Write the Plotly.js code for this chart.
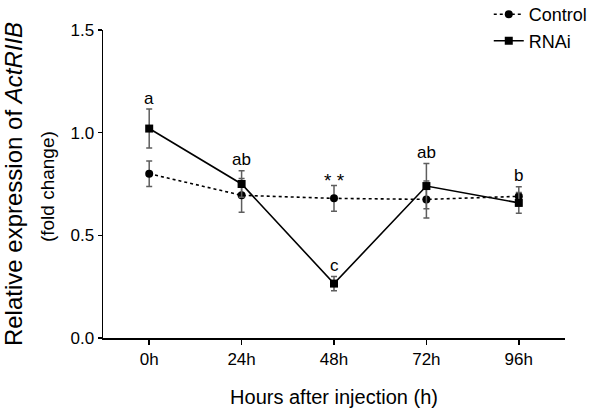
<!DOCTYPE html>
<html>
<head>
<meta charset="utf-8">
<script src="https://cdn.plot.ly/plotly-3.0.1.min.js"></script>
<style>html,body{margin:0;padding:0;background:#fff;}#chart{width:600px;height:412px;}</style>
</head>
<body>
<div id="chart"></div>
<script>
// ---- data ----
var timeLabels = ['0h', '24h', '48h', '72h', '96h'];
var controlMean = [0.80, 0.695, 0.68, 0.675, 0.69];
var controlErr  = [0.062, 0.082, 0.063, 0.09, 0.047];
var rnaiMean    = [1.02, 0.75, 0.265, 0.74, 0.658];
var rnaiErr     = [0.095, 0.065, 0.035, 0.11, 0.05];
var letterLabels = ['a', 'ab', 'c', 'ab', 'b'];
var starLabels   = ['', '', '* *', '', ''];
var seriesNames  = ['Control', 'RNAi'];

var xIdx = timeLabels.map(function (_, i) { return i; });
var FONT = 'Liberation Sans, Arial, sans-serif';

var errStyle = {type: 'data', visible: true, color: '#5e5e5e', thickness: 1.5, width: 3};

var traces = [
  {
    x: xIdx, y: controlMean, name: seriesNames[0], type: 'scatter', mode: 'lines+markers',
    line: {color: '#000', width: 1.6, dash: 'dot'},
    marker: {symbol: 'circle', size: 8, color: '#000'},
    error_y: Object.assign({array: controlErr}, errStyle)
  },
  {
    x: xIdx, y: rnaiMean, name: seriesNames[1], type: 'scatter', mode: 'lines+markers',
    line: {color: '#000', width: 1.6},
    marker: {symbol: 'square', size: 8, color: '#000'},
    error_y: Object.assign({array: rnaiErr}, errStyle)
  }
];

// significance labels: letters above the RNAi error bar (moved above the
// control bar when they would collide with it), stars above the control bar
var annotations = [];
xIdx.forEach(function (i) {
  var rTop = rnaiMean[i] + rnaiErr[i];
  var cTop = controlMean[i] + controlErr[i];
  var cLo = controlMean[i] - controlErr[i];
  var anchor = (rTop >= cLo && rTop <= cTop) ? cTop : rTop;
  if (letterLabels[i]) {
    annotations.push({x: i, y: anchor, xref: 'x', yref: 'y', text: letterLabels[i],
      showarrow: false, yanchor: 'middle', yshift: 11,
      font: {family: FONT, size: 17, color: '#000'}});
  }
  if (starLabels[i]) {
    annotations.push({x: i, y: cTop, xref: 'x', yref: 'y', text: starLabels[i],
      showarrow: false, yanchor: 'middle', yshift: 5,
      font: {family: FONT, size: 19, color: '#000'}});
  }
});

// second line of the y-axis title
annotations.push({xref: 'paper', yref: 'paper', x: 0, y: 0.49, xshift: -56,
  text: '(fold change)', textangle: -90, showarrow: false,
  xanchor: 'center', yanchor: 'middle',
  font: {family: FONT, size: 19, color: '#000'}});

var layout = {
  width: 600, height: 412,
  margin: {l: 103, r: 35, t: 30, b: 74, autoexpand: false},
  paper_bgcolor: '#fff', plot_bgcolor: '#fff',
  font: {family: FONT, color: '#000'},
  showlegend: true,
  legend: {x: 0.835, y: 1.11, xanchor: 'left', yanchor: 'top',
    font: {family: FONT, size: 18, color: '#000'}, bgcolor: 'rgba(0,0,0,0)',
    itemwidth: 30, tracegroupgap: 0},
  xaxis: {
    range: [-0.5, 4.5], tickmode: 'array', tickvals: xIdx, ticktext: timeLabels,
    showgrid: false, zeroline: false, showline: true, linecolor: '#000', linewidth: 1.5,
    ticks: 'outside', ticklen: 5, tickwidth: 1.5, tickcolor: '#000',
    tickfont: {family: FONT, size: 17, color: '#000'},
    title: {text: 'Hours after injection (h)', standoff: 22,
      font: {family: FONT, size: 20, color: '#000'}}
  },
  yaxis: {
    range: [0, 1.5], tickvals: [0, 0.5, 1.0, 1.5], tickformat: '.1f',
    showgrid: false, zeroline: false, showline: true, linecolor: '#000', linewidth: 1.5,
    ticks: 'outside', ticklen: 4, tickwidth: 1.5, tickcolor: '#000',
    tickfont: {family: FONT, size: 17, color: '#000'},
    title: {text: 'Relative expression of <i>ActRIIB</i>', standoff: 45,
      font: {family: FONT, size: 24, color: '#000'}}
  },
  annotations: annotations
};

Plotly.newPlot('chart', traces, layout, {displayModeBar: false, staticPlot: true});
</script>
</body>
</html>
